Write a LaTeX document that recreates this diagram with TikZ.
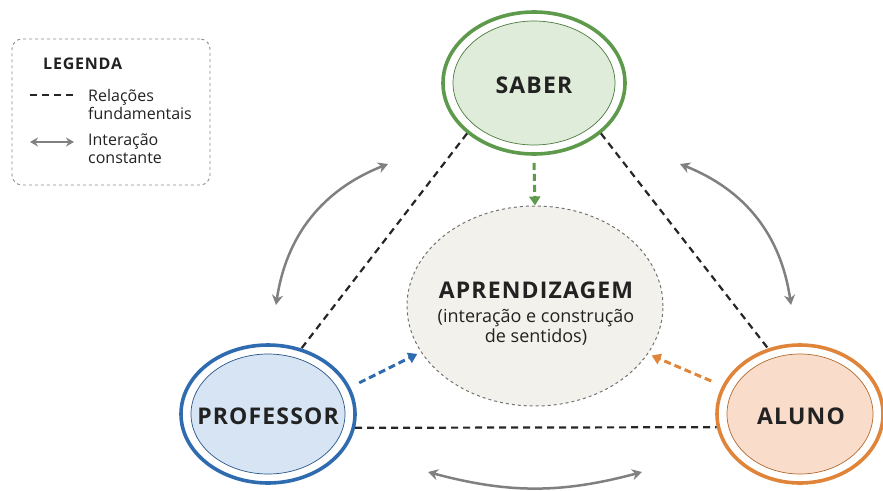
\documentclass[tikz,border=0pt]{standalone}
\usepackage{fontspec}
\setmainfont{Open Sans}
\newfontfamily\bfwide[LetterSpace=5]{Open Sans Bold}
\usetikzlibrary{shapes.geometric,arrows.meta,calc}
\definecolor{sabline}{HTML}{5E9A4C}
\definecolor{sabfill}{HTML}{DFECD9}
\definecolor{proline}{HTML}{2F6CAF}
\definecolor{profill}{HTML}{D7E4F3}
\definecolor{aluline}{HTML}{E0843A}
\definecolor{alufill}{HTML}{FADCCB}
\definecolor{cenfill}{HTML}{F3F1EB}
\definecolor{intgray}{HTML}{808080}
\definecolor{txt}{HTML}{222222}
\tikzset{
  outerell/.style={ellipse, line width=3.6pt, fill=white, inner sep=0pt},
  innerell/.style={ellipse, line width=0.7pt, inner sep=0pt},
  lbl/.style={text=txt, inner sep=0pt, font=\bfwide\fontsize{23}{27}\selectfont},
  rel/.style={draw=black!85, line width=2.2pt, dash pattern=on 7pt off 5pt},
  inter/.style={draw=intgray, line width=2.5pt, {Stealth[length=10pt,width=11pt]}-{Stealth[length=10pt,width=11pt]}},
  flow/.style={line width=3pt, dash pattern=on 7pt off 4pt, -{Triangle[length=9pt,width=11pt]}},
  legtxt/.style={font=\fontsize{16}{18}\selectfont, text=txt, align=left, inner sep=0pt, anchor=west}
}
\begin{document}
\begin{tikzpicture}[x=1pt,y=-1pt]
\useasboundingbox (0,0) rectangle (883,490);
\clip (0,0) rectangle (883,490);
% centre
\node[ellipse, draw=black!55, dashed, line width=1pt, fill=cenfill, minimum width=256pt, minimum height=200pt, inner sep=0pt] (C) at (535,306) {};
\node[lbl] (Ct) at (536,290) {APRENDIZAGEM};
\node[text=txt, font=\fontsize{18}{20}\selectfont, align=center, inner sep=0pt] (Cs) at (536,327) {(interação e construção\\de sentidos)};
% saber
\node[outerell, draw=sabline, minimum width=182pt, minimum height=142pt] (S) at (534,83) {};
\node[innerell, draw=sabline!80!black, fill=sabfill, minimum width=162pt, minimum height=124pt] (Si) at (534,83) {};
\node[lbl] (St) at (534,85) {SABER};
% professor
\node[outerell, draw=proline, minimum width=174pt, minimum height=138pt] (P) at (268,414) {};
\node[innerell, draw=proline!80!black, fill=profill, minimum width=154pt, minimum height=120pt] (Pi) at (268,414) {};
\node[lbl] (Pt) at (268,416) {PROFESSOR};
% aluno
\node[outerell, draw=aluline, minimum width=166pt, minimum height=138pt] (A) at (800,414) {};
\node[innerell, draw=aluline!80!black, fill=alufill, minimum width=146pt, minimum height=120pt] (Ai) at (800,414) {};
\node[lbl] (At) at (801,416) {ALUNO};
% fundamental relations
\draw[rel] (S.217) -- (P.63);
\draw[rel] (S.323) -- (A.116);
\draw[rel] (P.-9) -- (A.189);
% flows
\draw[flow, draw=sabline, color=sabline] ([yshift=-7pt]S.south) -- (C.north);
\draw[flow, draw=proline, color=proline, shorten <=10pt, shorten >=4pt] (P.18) -- (C.202);
\draw[flow, draw=aluline, color=aluline, shorten <=12pt, shorten >=4pt] (A.160) -- (C.337);
% interaction arrows
\coordinate (l1) at (388,164);
\coordinate (l2) at (276,305);
\coordinate (r1) at (680,164);
\coordinate (r2) at (791,305);
\coordinate (b1) at (428,472);
\coordinate (b2) at (642,472);
\draw[inter] (l1) to[bend right=30] (l2);
\draw[inter] (r1) to[bend left=30] (r2);
\draw[inter] (b1) to[bend right=15] (b2);
% legend
\node[draw=black!45, dashed, line width=0.9pt, rounded corners=10pt, minimum width=198pt, minimum height=146pt, inner sep=0pt] (L) at (111,112) {};
\node[font=\bfwide\fontsize{16}{18}\selectfont, text=txt, inner sep=0pt, anchor=west] (Lt) at (43,64) {LEGENDA};
\coordinate (ld1) at (30,95);
\coordinate (ld2) at (74,95);
\draw[rel, line width=2pt] (ld1) -- (ld2);
\node[legtxt] (Lr) at (88,104) {Relações\\fundamentais};
\coordinate (la1) at (30,142);
\coordinate (la2) at (74,142);
\draw[draw=intgray, line width=2.2pt, {Stealth[length=8pt,width=9pt]}-{Stealth[length=8pt,width=9pt]}] (la1) -- (la2);
\node[legtxt] (Li) at (88,149) {Interação\\constante};
\end{tikzpicture}
\end{document}
